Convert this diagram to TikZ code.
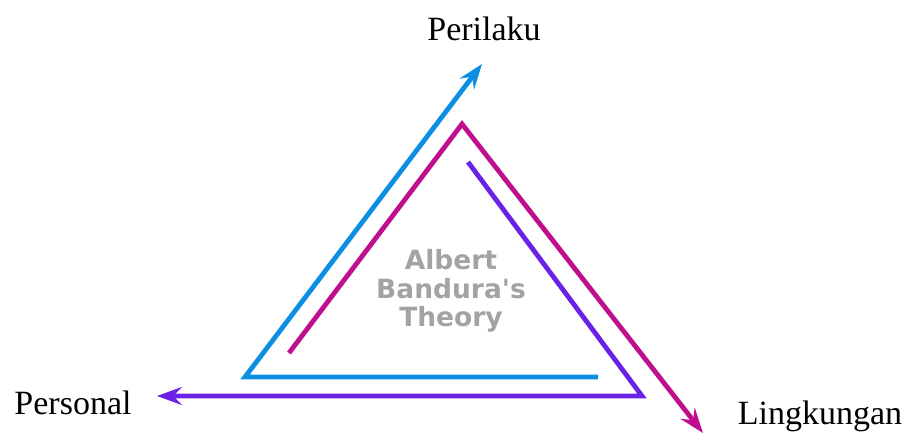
\documentclass[tikz,border=0pt]{standalone}
\usepackage{fontspec}
\setmainfont{Liberation Serif}
\newfontfamily\centerfont{DejaVu Sans}
\usetikzlibrary{arrows.meta}
\definecolor{cblue}{HTML}{0A8FE2}
\definecolor{cmag}{HTML}{BF0F8F}
\definecolor{cpur}{HTML}{6A22E6}
\definecolor{cgray}{HTML}{A3A3A3}
\tikzset{
  flow/.style={line width=4.8pt, line join=miter, -{Stealth[length=25pt,width=18pt,inset=9pt]}},
  lbl/.style={font=\fontsize{34}{40}\selectfont, anchor=base, inner sep=0pt},
}
\begin{document}
\begin{tikzpicture}[x=1pt,y=-1pt]
\useasboundingbox (0,0) rectangle (908,434);
% blue
\coordinate (b1) at (598,377);
\coordinate (b2) at (245,377);
\coordinate (b3) at (482,64);
% magenta
\coordinate (m1) at (289,353);
\coordinate (m2) at (462,124);
\coordinate (m3) at (703,433);
% purple
\coordinate (p1) at (468,162);
\coordinate (p2) at (642,396);
\coordinate (p3) at (157,396);
\draw[flow, cblue] (b1) -- (b2) -- (b3);
\draw[flow, cmag] (m1) -- (m2) -- (m3);
\draw[flow, cpur] (p1) -- (p2) -- (p3);
\node[lbl] (per) at (484,40) {Perilaku};
\node[lbl] (pers) at (73,414) {Personal};
\node[lbl] (ling) at (820,424) {Lingkungan};
\node[font=\centerfont\bfseries\fontsize{26.5}{28.5}\selectfont, text=cgray, align=center, inner sep=0pt] (th) at (451,291) {Albert\\Bandura's\\Theory};
\end{tikzpicture}
\end{document}
